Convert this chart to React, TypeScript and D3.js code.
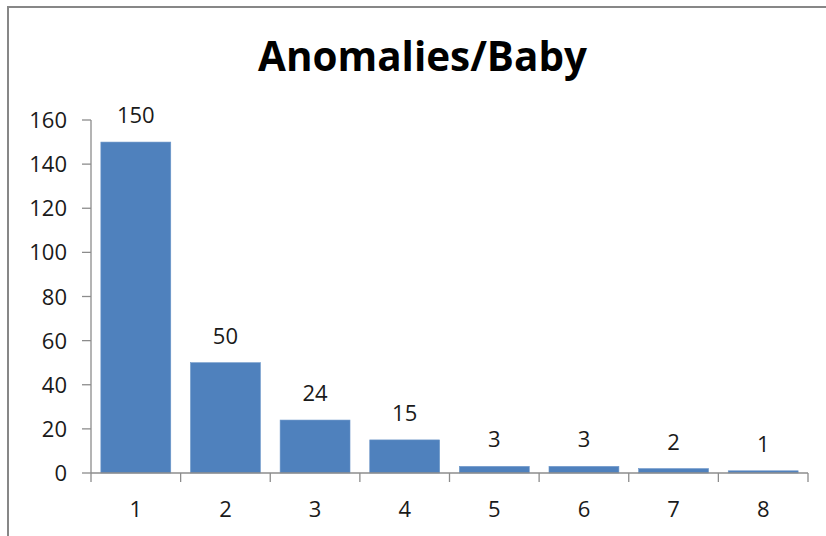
import React from "react";
import * as d3 from "d3";

const categories = ["1", "2", "3", "4", "5", "6", "7", "8"];
const values = [150, 50, 24, 15, 3, 3, 2, 1];
const yTicks = [0, 20, 40, 60, 80, 100, 120, 140, 160];
const title = "Anomalies/Baby";

export default function App() {
  const W = 826, H = 536;
  const left = 91, right = 808, top = 120, bottom = 473;
  const x = d3.scaleBand().domain(categories).range([left, right]).paddingInner(0.22).paddingOuter(0.11);
  const y = d3.scaleLinear().domain([0, 160]).range([bottom, top]);
  const font = "'Open Sans', sans-serif";
  const axisColor = "#8c8c8c";
  const step = x.step();
  const boundaries = d3.range(categories.length + 1).map((i) => left + i * step);
  return (
    <svg width={W} height={H} style={{ position: "absolute", left: 0, top: 0, display: "block", background: "#fff" }}>
      <rect x={8} y={7} width={W + 20} height={H + 20} fill="#fff" stroke="#878787" strokeWidth={2} />
      <text x={422.5} y={71} textAnchor="middle" fontFamily={font} fontWeight="bold" fontSize={42} textLength={329} lengthAdjust="spacingAndGlyphs" fill="#000">
        {title}
      </text>
      {values.map((v, i) => (
        <rect key={i} x={x(categories[i])} y={y(v)} width={x.bandwidth()} height={bottom - y(v)} fill="#4F81BD" stroke="#6c96c8" strokeWidth={0.6} />
      ))}
      {values.map((v, i) => (
        <text key={"l" + i} x={(x(categories[i]) as number) + x.bandwidth() / 2} y={y(v) - 19} textAnchor="middle" fontFamily={font} fontSize={22} fill="#1a1a1a">
          {v}
        </text>
      ))}
      <line x1={left} x2={left} y1={top} y2={bottom} stroke={axisColor} strokeWidth={1.3} />
      {yTicks.map((t) => (
        <g key={"y" + t}>
          <line x1={82} x2={left} y1={y(t)} y2={y(t)} stroke={axisColor} strokeWidth={1.3} />
          <text x={67} y={y(t) + 8} textAnchor="end" fontFamily={font} fontSize={22} fill="#1a1a1a">
            {t}
          </text>
        </g>
      ))}
      <line x1={left} x2={right} y1={bottom} y2={bottom} stroke={axisColor} strokeWidth={1.3} />
      {boundaries.map((b, i) => (
        <line key={"xt" + i} x1={b} x2={b} y1={bottom} y2={bottom + 9} stroke={axisColor} strokeWidth={1.3} />
      ))}
      {categories.map((c) => (
        <text key={"c" + c} x={(x(c) as number) + x.bandwidth() / 2} y={517} textAnchor="middle" fontFamily={font} fontSize={22} fill="#1a1a1a">
          {c}
        </text>
      ))}
    </svg>
  );
}
